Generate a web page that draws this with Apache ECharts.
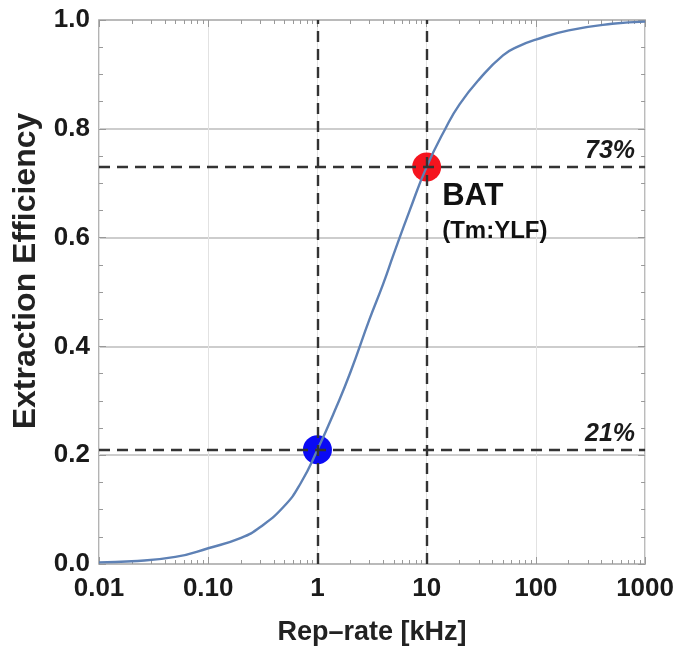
<!DOCTYPE html>
<html>
<head>
<meta charset="utf-8">
<script src="https://cdn.jsdelivr.net/npm/echarts@6/dist/echarts.min.js"></script>
<style>
html,body{margin:0;padding:0;background:#fff;}
#chart{width:677px;height:651px;}
</style>
</head>
<body>
<div id="chart"></div>
<script>
// Rep-rate [kHz] sample positions and extraction efficiency
var repRate = [0.01, 0.02, 0.05, 0.1, 0.2, 0.3, 0.5, 0.7, 1, 1.5, 2, 3, 4, 5, 7, 10, 15, 20, 30, 50, 70, 100, 200, 500, 1000];
var efficiency = [0.003, 0.005, 0.013, 0.029, 0.048, 0.068, 0.107, 0.148, 0.21, 0.29, 0.352, 0.45, 0.515, 0.57, 0.65, 0.73, 0.802, 0.845, 0.89, 0.935, 0.952, 0.964, 0.981, 0.993, 0.997];
var xTickLabels = ['0.01', '0.10', '1', '10', '100', '1000'];
var yTickLabels = ['0.0', '0.2', '0.4', '0.6', '0.8', '1.0'];
var markerPoints = [[1, 0.21], [10, 0.73]];
var markerColors = ['#0a0af5', '#f5141e'];
var guideX = [1, 10];
var guideY = [0.21, 0.73];
var guideYLabels = ['21%', '73%'];
var minorX = [];
[0.01, 0.1, 1, 10, 100].forEach(function (d) { for (var k = 2; k <= 9; k++) minorX.push(d * k); });
var majorX = [0.01, 0.1, 1, 10, 100, 1000];

var FONT = '"Liberation Sans", Arial, Helvetica, sans-serif';
var chart = echarts.init(document.getElementById('chart'));

function tickAxis(pos, vals, len) {
  return {
    type: 'log', logBase: 10, min: 0.01, max: 1000, position: pos,
    axisLine: {show: false}, splitLine: {show: false},
    axisLabel: {show: false},
    axisTick: {show: true, inside: true, length: len, customValues: vals, lineStyle: {color: '#999', width: 1}}
  };
}

var markLineData = guideX.map(function (v) { return {xAxis: v, label: {show: false}}; })
  .concat(guideY.map(function (v, i) {
    return {yAxis: v, label: {show: true, formatter: guideYLabels[i], position: 'insideEndTop', distance: [10, 3],
      fontFamily: FONT, fontSize: 25, fontWeight: 'bold', fontStyle: 'italic', color: '#1a1a1a'}};
  }));

chart.setOption({
  animation: false,
  grid: {left: 99, right: 31, top: 20, bottom: 86, show: true, borderColor: '#9a9a9a', borderWidth: 1.5, containLabel: false},
  xAxis: [
    {
      type: 'log', logBase: 10, min: 0.01, max: 1000, position: 'bottom',
      name: 'Rep\u2013rate [kHz]', nameLocation: 'middle', nameGap: 55,
      nameTextStyle: {fontFamily: FONT, fontSize: 27, fontWeight: 'bold', color: '#222'},
      axisLine: {show: false},
      axisTick: {show: true, inside: true, length: 7, lineStyle: {color: '#999'}},
      axisLabel: {
        margin: 12, fontFamily: FONT, fontSize: 26, fontWeight: 'bold', color: '#1a1a1a',
        formatter: function (v) { return xTickLabels[Math.round(Math.log10(v)) + 2]; }
      },
      splitLine: {show: true, lineStyle: {color: '#e2e2e2', width: 1}}
    },
    tickAxis('bottom', minorX, 4),
    tickAxis('top', minorX, 4),
    tickAxis('top', majorX, 7)
  ],
  yAxis: [
    {
      type: 'value', min: 0, max: 1, interval: 0.2, position: 'left',
      name: 'Extraction Efficiency', nameLocation: 'middle', nameGap: 57,
      nameTextStyle: {fontFamily: FONT, fontSize: 32, fontWeight: 'bold', color: '#222', padding: [0, 0, 0, 42]},
      axisLine: {show: false},
      axisTick: {show: true, inside: true, length: 7, lineStyle: {color: '#999'}},
      minorTick: {show: true, splitNumber: 4, length: 4, lineStyle: {color: '#999'}},
      axisLabel: {
        margin: 9, fontFamily: FONT, fontSize: 26, fontWeight: 'bold', color: '#1a1a1a',
        formatter: function (v) { return yTickLabels[Math.round(v / 0.2)]; }
      },
      splitLine: {show: true, lineStyle: {color: '#bdbdbd', width: 1.5}}
    },
    {
      type: 'value', min: 0, max: 1, interval: 0.2, position: 'right',
      axisLine: {show: false}, axisLabel: {show: false}, splitLine: {show: false},
      axisTick: {show: true, inside: true, length: 7, lineStyle: {color: '#999'}},
      minorTick: {show: true, splitNumber: 4, length: 4, lineStyle: {color: '#999'}}
    }
  ],
  series: [
    {
      type: 'scatter', z: 2, symbolSize: 29,
      data: markerPoints.map(function (p, i) {
        var item = {value: p, itemStyle: {color: markerColors[i], opacity: 1}};
        if (i === 1) {
          item.label = {
            show: true, position: [30, 26], align: 'left', verticalAlign: 'top',
            formatter: '{a|BAT}\n{b|(Tm:YLF)}',
            rich: {
              a: {fontFamily: FONT, fontSize: 31, fontWeight: 'bold', color: '#111', lineHeight: 36},
              b: {fontFamily: FONT, fontSize: 24, fontWeight: 'bold', color: '#111', lineHeight: 34}
            }
          };
        }
        return item;
      })
    },
    {
      type: 'line', z: 3, smooth: 0.5, showSymbol: false,
      data: repRate.map(function (f, i) { return [f, efficiency[i]]; }),
      lineStyle: {color: '#5e81b5', width: 2.4},
      itemStyle: {color: '#5e81b5'},
      markLine: {
        silent: true, symbol: ['none', 'none'], animation: false,
        lineStyle: {type: [11, 7], color: '#333', width: 2.4},
        data: markLineData
      }
    }
  ]
});
</script>
</body>
</html>
